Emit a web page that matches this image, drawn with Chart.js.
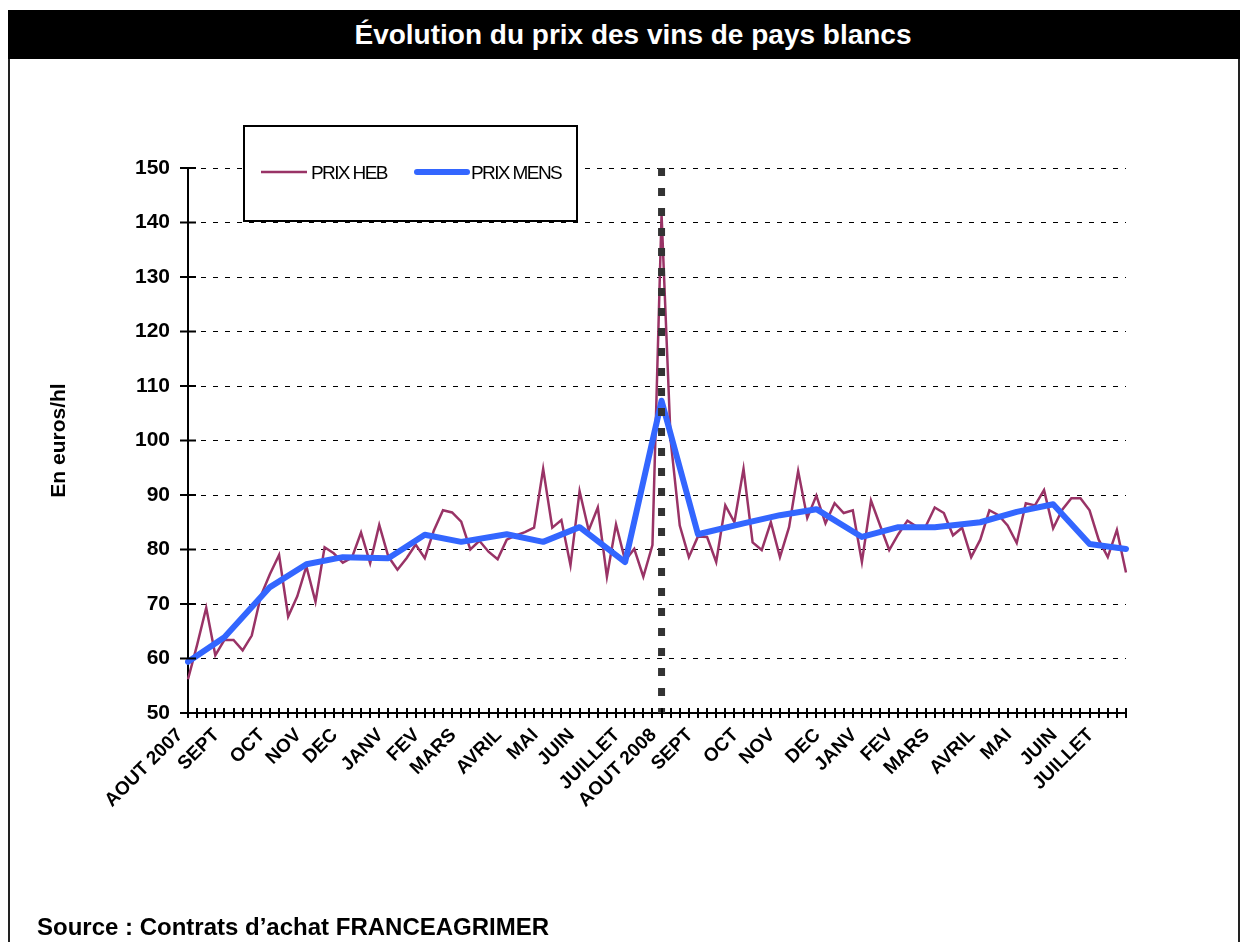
<!DOCTYPE html>
<html>
<head>
<meta charset="utf-8">
<script src="https://cdn.jsdelivr.net/npm/chart.js@4.4.0/dist/chart.umd.min.js"></script>
<style>
html, body { margin: 0; padding: 0; background: #fff; }
body { width: 1247px; height: 942px; position: relative; overflow: hidden; font-family: "Liberation Sans", Arial, sans-serif; }
#frame { position: absolute; left: 8px; top: 10px; width: 1232px; height: 980px; border: 2px solid #222; box-sizing: border-box; }
#titlebar { position: absolute; left: 8px; top: 10px; width: 1232px; height: 49px; background: #000; }
#title { position: absolute; left: 633px; top: 35px; transform: translate(-50%, -50%); color: #fff; font-weight: bold; font-size: 28px; white-space: nowrap; }
#source { position: absolute; left: 37px; top: 913px; font-weight: bold; font-size: 24px; white-space: nowrap; }
#chart { position: absolute; left: 0; top: 0; }
</style>
</head>
<body>
<div id="frame"></div>
<div id="titlebar"></div>
<div id="title">Évolution du prix des vins de pays blancs</div>
<canvas id="chart" width="1247" height="942"></canvas>
<div id="source">Source : Contrats d’achat FRANCEAGRIMER</div>
<script>
// month labels and the week (category index) where each one sits
const moisLabels = ['AOUT 2007', 'SEPT', 'OCT', 'NOV', 'DEC', 'JANV', 'FEV', 'MARS', 'AVRIL', 'MAI', 'JUIN', 'JUILLET',
                    'AOUT 2008', 'SEPT', 'OCT', 'NOV', 'DEC', 'JANV', 'FEV', 'MARS', 'AVRIL', 'MAI', 'JUIN', 'JUILLET'];
const moisSemaine = [0, 4, 9, 13, 17, 22, 26, 30, 35, 39, 43, 48, 52, 56, 61, 65, 70, 74, 78, 82, 87, 91, 96, 100];

// weekly price (PRIX HEB), euros/hl
const prixHeb = [
    56.2, 62.5, 69.3, 60.6, 63.4, 63.4, 61.5, 64.2, 71.5, 75.5,
    79.0, 67.7, 71.4, 76.9, 70.4, 80.4, 79.3, 77.6, 78.5, 83.1,
    77.5, 84.5, 78.7, 76.3, 78.4, 80.9, 78.4, 83.5, 87.2, 86.8,
    85.1, 80.0, 81.6, 79.6, 78.2, 81.8, 82.6, 83.2, 84.0, 94.8,
    84.0, 85.4, 77.1, 90.7, 83.5, 87.7, 75.0, 84.6, 78.0, 80.1,
    75.0, 80.8, 141.5, 100.0, 84.4, 78.6, 82.4, 82.3, 77.7, 88.1,
    85.0, 94.8, 81.3, 79.9, 85.0, 78.6, 84.1, 94.4, 85.8, 89.9,
    84.8, 88.5, 86.7, 87.2, 77.7, 89.0, 84.4, 79.9, 82.8, 85.3,
    84.2, 84.2, 87.7, 86.7, 82.6, 84.0, 78.6, 81.8, 87.2, 86.3,
    84.4, 81.2, 88.5, 88.1, 90.9, 83.9, 87.3, 89.4, 89.4, 87.2,
    81.8, 78.6, 83.6, 75.8
];

// monthly price (PRIX MENS) and the week it is plotted on
const mensSemaine = [0, 4, 9, 13, 17, 22, 26, 30, 35, 39, 43, 48, 52, 56, 61, 65, 69, 74, 78, 82, 87, 91, 95, 99, 103];
const prixMens = [59.4, 63.9, 73.1, 77.3, 78.6, 78.4, 82.7, 81.4, 82.8, 81.4, 84.1, 77.7,
                  107.3, 82.8, 84.8, 86.3, 87.4, 82.3, 84.1, 84.1, 85.0, 86.9, 88.3, 81.0, 80.1];

const yMin = 50, yMax = 150, yStep = 10;

const labels = prixHeb.map(() => '');
moisSemaine.forEach((w, i) => { labels[w] = moisLabels[i]; });
const mensData = prixHeb.map(() => null);
mensSemaine.forEach((w, i) => { mensData[w] = prixMens[i]; });

const FONT = '"Liberation Sans", Arial, sans-serif';

const decor = {
    id: 'decor',
    afterDatasetsDraw(chart) {
        const { ctx, chartArea, scales: { x, y } } = chart;
        ctx.save();
        // dotted marker on AOUT 2008
        const xv = x.getPixelForValue(labels.indexOf('AOUT 2008'));
        ctx.strokeStyle = '#333';
        ctx.lineWidth = 7;
        ctx.setLineDash([8, 12]);
        ctx.beginPath();
        ctx.moveTo(xv, chartArea.top);
        ctx.lineTo(xv, chartArea.bottom);
        ctx.stroke();
        ctx.setLineDash([]);
        // crossing tick marks
        ctx.strokeStyle = '#000';
        ctx.lineWidth = 2;
        ctx.beginPath();
        for (let i = 0; i < labels.length; i++) {
            const px = Math.round(x.getPixelForValue(i));
            ctx.moveTo(px, chartArea.bottom - 5);
            ctx.lineTo(px, chartArea.bottom + 5);
        }
        y.ticks.forEach(t => {
            const py = y.getPixelForValue(t.value);
            ctx.moveTo(chartArea.left - 8, py);
            ctx.lineTo(chartArea.left + 8, py);
        });
        ctx.stroke();
        ctx.restore();
    },
    afterDraw(chart) {
        const ctx = chart.ctx;
        ctx.save();
        // legend box
        ctx.fillStyle = '#fff';
        ctx.fillRect(244, 126, 333, 95);
        ctx.strokeStyle = '#000';
        ctx.lineWidth = 2;
        ctx.strokeRect(244, 126, 333, 95);
        const slots = [{ x: 261, w: 46 }, { x: 417, w: 50 }];
        ctx.font = '19px ' + FONT;
        ctx.letterSpacing = '-1.6px';
        ctx.textBaseline = 'middle';
        chart.data.datasets.forEach((ds, i) => {
            const s = slots[i];
            ctx.strokeStyle = ds.borderColor;
            ctx.lineWidth = ds.borderWidth;
            ctx.lineCap = i === 1 ? 'round' : 'butt';
            ctx.beginPath();
            ctx.moveTo(s.x, 172);
            ctx.lineTo(s.x + s.w, 172);
            ctx.stroke();
            ctx.fillStyle = '#000';
            ctx.fillText(ds.label, s.x + s.w + 4, 174);
        });
        ctx.restore();
    }
};

new Chart(document.getElementById('chart'), {
    type: 'line',
    data: {
        labels: labels,
        datasets: [{
            label: 'PRIX HEB',
            data: prixHeb,
            borderColor: '#993366',
            borderWidth: 2.5,
            pointRadius: 0,
            tension: 0,
            order: 1
        }, {
            label: 'PRIX MENS',
            data: mensData,
            borderColor: '#3366FF',
            borderWidth: 6,
            pointRadius: 0,
            tension: 0,
            spanGaps: true,
            borderJoinStyle: 'round',
            borderCapStyle: 'round',
            order: 0
        }]
    },
    options: {
        responsive: false,
        animation: false,
        layout: { padding: { top: 168, left: 0, right: 121, bottom: 119 } },
        plugins: { legend: { display: false }, tooltip: { enabled: false } },
        scales: {
            x: {
                grid: { display: false, drawTicks: false },
                border: { color: '#000', width: 2 },
                ticks: {
                    autoSkip: false, minRotation: 45, maxRotation: 45, padding: 11, labelOffset: -8,
                    color: '#000', font: { family: FONT, size: 19, weight: 'bold' }
                },
                afterFit(scale) { scale.height = 110; }
            },
            y: {
                min: yMin, max: yMax,
                ticks: {
                    stepSize: yStep, padding: 18, color: '#000',
                    font: { family: FONT, size: 21, weight: 'bold' }
                },
                grid: { color: '#000', lineWidth: 1, drawTicks: false },
                border: { color: '#000', width: 2, dash: [5, 7] },
                title: {
                    display: true, text: 'En euros/hl', color: '#000',
                    font: { family: FONT, size: 21, weight: 'bold' },
                    padding: { top: 47, bottom: 0 }
                },
                afterFit(scale) { scale.width = 188; }
            }
        }
    },
    plugins: [decor]
});
</script>
</body>
</html>
